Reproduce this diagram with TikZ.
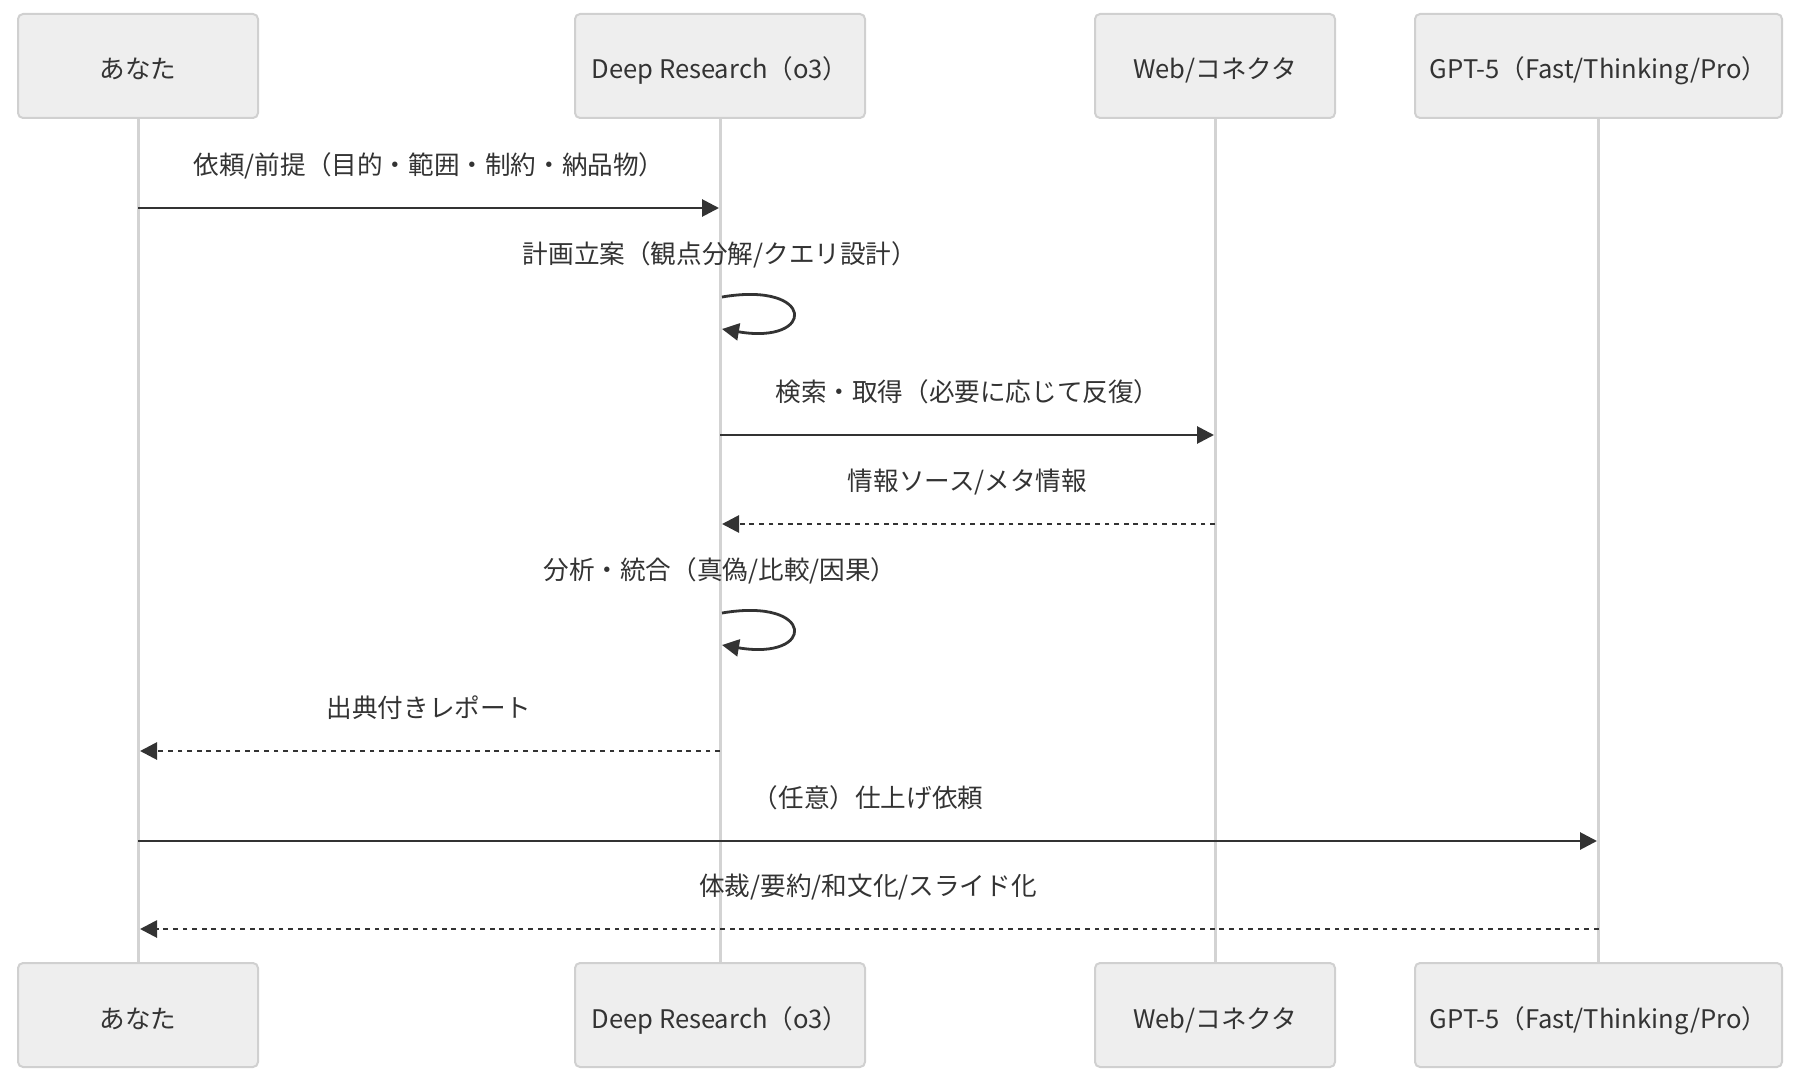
\documentclass[tikz,border=0pt]{standalone}
\usepackage{fontspec}
\setmainfont{Noto Sans CJK JP}
\usetikzlibrary{arrows.meta}

\definecolor{boxfill}{HTML}{EEEEEE}
\definecolor{boxline}{HTML}{D0D0D0}
\definecolor{inkgray}{HTML}{333333}
\definecolor{lifegray}{HTML}{D3D3D3}

\tikzset{
  actor/.style={draw=boxline, fill=boxfill, line width=1pt, rounded corners=2.5pt,
    minimum height=52pt, inner sep=0pt, text=inkgray, text height=13pt, text depth=0pt,
    font=\fontsize{12.8pt}{15pt}\selectfont},
  msglabel/.style={inner sep=0pt, text=inkgray, text height=9pt, text depth=0pt,
    font=\fontsize{12.8pt}{15pt}\selectfont},
  lifeline/.style={draw=lifegray, line width=1.5pt},
  call/.style={draw=inkgray, line width=1.4pt, -{Triangle[length=8.5pt,width=8.5pt]}},
  reply/.style={call, dash pattern=on 2.4pt off 2.4pt}
}

\begin{document}
\begin{tikzpicture}[x=0.5pt, y=-0.5pt]

    % --- Canvas (pixel units, y downwards) ---
    \useasboundingbox (0,0) rectangle (1803,1081);

    % --- Participants, top row ---
    \node[actor, minimum width=120pt]   (youTop)  at (138,66)    {あなた};
    \node[actor, minimum width=145pt]   (deepTop) at (720,66)    {Deep Research（o3）};
    \node[actor, minimum width=120pt]   (webTop)  at (1215,66)   {Web/コネクタ};
    \node[actor, minimum width=183.5pt] (gptTop)  at (1598.5,66) {GPT-5（Fast/Thinking/Pro）};

    % --- Participants, bottom row ---
    \node[actor, minimum width=120pt]   (youBot)  at (138,1015)    {あなた};
    \node[actor, minimum width=145pt]   (deepBot) at (720,1015)    {Deep Research（o3）};
    \node[actor, minimum width=120pt]   (webBot)  at (1215,1015)   {Web/コネクタ};
    \node[actor, minimum width=183.5pt] (gptBot)  at (1598.5,1015) {GPT-5（Fast/Thinking/Pro）};

    % --- Lifelines ---
    \draw[lifeline] (youTop.south)  -- (youBot.north);
    \draw[lifeline] (deepTop.south) -- (deepBot.north);
    \draw[lifeline] (webTop.south)  -- (webBot.north);
    \draw[lifeline] (gptTop.south)  -- (gptBot.north);

    % --- Message end points on the lifelines ---
    \coordinate (m1a) at (138,208);   \coordinate (m1b) at (719,208);
    \coordinate (m3a) at (720,435);   \coordinate (m3b) at (1214,435);
    \coordinate (m4a) at (1215,524);  \coordinate (m4b) at (722,524);
    \coordinate (m6a) at (720,751);   \coordinate (m6b) at (140,751);
    \coordinate (m7a) at (138,841);   \coordinate (m7b) at (1597,841);
    \coordinate (m8a) at (1598.5,929); \coordinate (m8b) at (140,929);

    % --- Self calls on Deep Research ---
    \coordinate (s2a) at (722,297);  \coordinate (s2d) at (722,329);
    \coordinate (s5a) at (722,613);  \coordinate (s5d) at (722,645);

    % --- Messages ---
    \node[msglabel] (l1) at (429,165) {依頼/前提（目的・範囲・制約・納品物）};
    \draw[call] (m1a) -- (m1b);

    \node[msglabel] (l2) at (720,254) {計画立案（観点分解/クエリ設計）};
    \draw[call] (s2a) .. controls (816,281) and (816,345) .. (s2d);

    \node[msglabel] (l3) at (967.5,392) {検索・取得（必要に応じて反復）};
    \draw[call] (m3a) -- (m3b);

    \node[msglabel] (l4) at (967.5,481) {情報ソース/メタ情報};
    \draw[reply] (m4a) -- (m4b);

    \node[msglabel] (l5) at (720,570) {分析・統合（真偽/比較/因果）};
    \draw[call] (s5a) .. controls (816,597) and (816,661) .. (s5d);

    \node[msglabel] (l6) at (429,708) {出典付きレポート};
    \draw[reply] (m6a) -- (m6b);

    \node[msglabel] (l7) at (868,798) {（任意）仕上げ依頼};
    \draw[call] (m7a) -- (m7b);

    \node[msglabel] (l8) at (868,886) {体裁/要約/和文化/スライド化};
    \draw[reply] (m8a) -- (m8b);

\end{tikzpicture}
\end{document}
